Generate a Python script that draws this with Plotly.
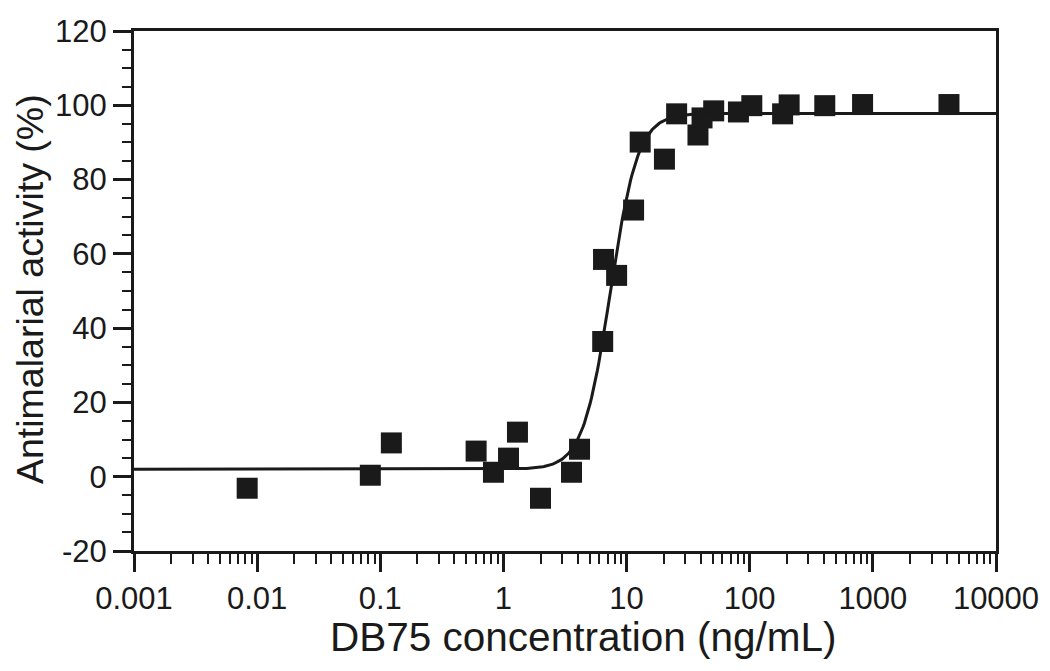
import numpy as np
import plotly.graph_objects as go

conc = [0.0083, 0.083, 0.123, 0.6, 0.83, 1.1, 1.3, 2.0, 3.57, 4.15, 6.4, 6.5, 8.3,
        11.4, 12.9, 20.3, 25.5, 38, 41, 51, 81, 104, 185, 209, 407, 825, 4150]
activity = [-3.1, 0.4, 9.1, 6.9, 1.2, 5.0, 12.0, -5.8, 1.2, 7.4, 36.4, 58.5, 54.2,
            71.8, 90.1, 85.5, 97.7, 92.0, 96.6, 98.5, 98.2, 99.9, 97.7, 100.1, 99.9, 100.2, 100.2]

# Fitted four-parameter logistic curve parameters
fit_bottom = 2.0
fit_top = 97.8
fit_ec50 = 7.4
fit_hill = 3.9

x_tick_vals = [0.001, 0.01, 0.1, 1, 10, 100, 1000, 10000]
x_tick_text = ["0.001", "0.01", "0.1", "1", "10", "100", "1000", "10000"]
y_tick_vals = [-20, 0, 20, 40, 60, 80, 100, 120]
y_tick_text = ["-20", "0", "20", "40", "60", "80", "100", "120"]

xfit = np.logspace(-3, 4, 600)
yfit = fit_bottom + (fit_top - fit_bottom) / (1 + (fit_ec50 / xfit) ** fit_hill)

ink = "#1a1a1a"
# the page body has an 8px margin; figure is placed at (8, 8)
body = 8
W, H = 1050 - body, 671 - body
plot_l, plot_r, plot_t, plot_b = 134 - body, 996 - body, 31 - body, 551 - body

fig = go.Figure()
fig.add_trace(go.Scatter(x=conc, y=activity, mode="markers",
                         marker=dict(symbol="square", size=21, color=ink, line=dict(width=0)),
                         showlegend=False))
fig.add_trace(go.Scatter(x=xfit, y=yfit, mode="lines",
                         line=dict(color=ink, width=3), showlegend=False))

fig.update_layout(
    width=W, height=H,
    margin=dict(l=plot_l, r=W - plot_r, t=plot_t, b=H - plot_b, autoexpand=False),
    paper_bgcolor="white", plot_bgcolor="white",
    font=dict(family="Liberation Sans, Arial, sans-serif", color=ink),
    annotations=[
        dict(text="DB75 concentration (ng/mL)",
             x=(583 - body - plot_l) / (plot_r - plot_l), y=(plot_b - (637 - body)) / (plot_b - plot_t),
             xref="paper", yref="paper", xanchor="center", yanchor="middle",
             showarrow=False, font=dict(size=40.5, color=ink)),
        dict(text="Antimalarial activity (%)", textangle=-90,
             x=(30 - body - plot_l) / (plot_r - plot_l), y=(plot_b - (289 - body)) / (plot_b - plot_t),
             xref="paper", yref="paper", xanchor="center", yanchor="middle",
             showarrow=False, font=dict(size=37.5, color=ink)),
    ],
)

fig.update_xaxes(
    type="log", range=[-3, 4], automargin=False,
    tickvals=x_tick_vals, ticktext=x_tick_text,
    ticks="outside", ticklen=18, tickwidth=2.5, tickcolor=ink,
    minor=dict(ticks="outside", ticklen=10, tickwidth=2, tickcolor=ink, dtick="D1"),
    showline=True, linewidth=3, linecolor=ink, mirror=True,
    showgrid=False, zeroline=False,
    tickfont=dict(size=31, color=ink),
)
fig.update_yaxes(
    range=[-20, 120], automargin=False,
    tickvals=y_tick_vals, ticktext=y_tick_text,
    ticks="outside", ticklen=18, tickwidth=2.5, tickcolor=ink,
    minor=dict(ticks="outside", ticklen=9, tickwidth=2, tickcolor=ink, dtick=5),
    showline=True, linewidth=3, linecolor=ink, mirror=True,
    showgrid=False, zeroline=False,
    tickfont=dict(size=31, color=ink),
)

fig.write_html("out.html")
